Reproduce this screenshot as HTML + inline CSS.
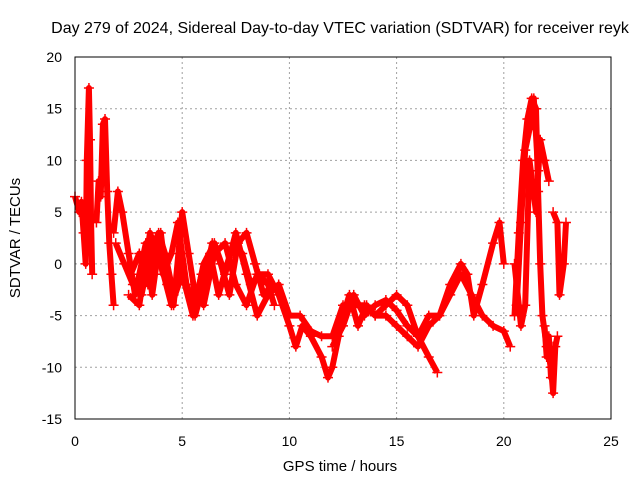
<!DOCTYPE html>
<html><head><meta charset="utf-8"><style>
body{margin:0;background:#fff;}
svg{display:block;font-family:"Liberation Sans",sans-serif;}
</style></head><body>
<svg id="chart" width="640" height="480" xmlns="http://www.w3.org/2000/svg">
<text x="340" y="33" font-size="16" text-anchor="middle">Day 279 of 2024, Sidereal Day-to-day VTEC variation (SDTVAR) for receiver reyk</text>
<text x="340" y="471" font-size="15" text-anchor="middle">GPS time / hours</text>
<text x="20" y="238" font-size="15" text-anchor="middle" transform="rotate(-90 20 238)">SDTVAR / TECUs</text>
<g id="grid"></g>
<g id="axes"></g>
<g id="data"></g>
<rect x="75" y="57" width="536" height="362" fill="none" stroke="#000" stroke-width="1"/>
</svg>
<script>
const xTicks=[0,5,10,15,20,25];
const yTicks=[20,15,10,5,0,-5,-10,-15];
const track1X=[0,0.2,0.3,0.4,0.5,0.55,0.65,0.7,0.75,0.8];
const track1Y=[6.5,5,6,3,0,10,17,12,4,-1];
const track2X=[1.0,1.1,1.2,1.3,1.4,1.5,1.6,1.7,1.8];
const track2Y=[4,8,6.5,13.5,14,7,2,-1,-4];
const track3X=[1.8,2.0,2.2,2.5,2.8,3.0,3.3,3.6,4.0,4.3,4.6,5.0,5.3,5.6,6.0,6.5,7.0,7.5,8.0,8.5,9.0,9.5,10.0,10.3,10.6,11.0,11.5,11.8,12.0,12.3,12.5,12.8,13.2,13.6,14.0,14.5,15.0,15.5,16.0,16.5,16.9];
const track3Y=[3,7,5,1,-3,-1,2,-3,3,-2,-4,5,1,-3,-4,1,2,-2,-4,-1,-1,-3,-6,-8,-6,-7,-9,-11,-10,-7,-5,-3,-6,-4,-5,-4,-3,-4,-7,-9,-10.5];
const track4X=[2.5,3.0,3.5,4.0,4.5,5.0,5.5,6.0,6.5,7.0,7.5,8.0,8.5,9.0,9.5,10.0,10.5,11.0,11.5,12.0,12.5,13.0,13.5,14.0,14.5,15.0,15.5,16.0,16.5,17.0,17.5,18.0,18.5,19.0,19.5,20.0,20.3];
const track4Y=[-3,-4,3,0,-4,-1,-5,0,2,-1,3,-1,-5,-3,-2,-5,-5,-6.5,-7,-7,-4,-4,-4,-5,-5,-6,-7,-8,-6,-5,-3,-1,-3,-5,-6,-6.5,-8];
const track5X=[12.0,12.5,13.0,13.5,14.0,14.5,15.0,15.5,16.0,16.5,17.0,17.5,18.0,18.3,18.6,19.0,19.5,19.8,20.0];
const track5Y=[-8,-6,-3,-5,-4,-3.5,-4.5,-6,-7,-5,-5,-2,0,-1,-5,-2,2,4,0];
const track6X=[20.5,20.7,20.9,21.1,21.3,21.5,21.6,21.7,21.8,22.0,22.2,22.3,22.4,22.5];
const track6Y=[-5,3,10,14,16,15,7,0,-5,-8,-10,-12.5,-8,-7];
const track7X=[20.5,20.8,21.0,21.2,21.5,21.7,21.9,22.1];
const track7Y=[0,-6,-4,10,5,12,10,8];
const track8X=[22.3,22.5,22.6,22.8,22.9];
const track8Y=[5,4,-3,0,4];
const track9X=[1.9,2.3,2.7,3.1,3.5,3.9,4.2,4.6,4.9,5.2,5.6,5.9,6.3,6.7,7.1,7.4,7.8,8.2,8.6,9.0,9.3];
const track9Y=[2,0,-2,-3,1,3,1,-3,0,-2,-4,-1,1,-3,0,2,1,-2,-1,-2,-4];
const track10X=[2.6,3.0,3.4,3.8,4.1,4.5,4.8,5.2,5.6,6.0,6.4,6.8,7.2,7.6,8.0,8.4,8.8,9.2];
const track10Y=[-1,1,-2,2,-1,1,4,-2,-5,-2,2,0,-3,2,3,0,-3,-2];
const track11X=[20.6,20.8,21.0,21.2,21.4,21.6];
const track11Y=[-4,4,11,13,16,9];
const track12X=[21.9,22.0,22.1,22.2,22.3];
const track12Y=[-6,-9,-7,-11,-8];
const tracksX=[track1X,track2X,track3X,track4X,track5X,track6X,track7X,track8X,track9X,track10X,track11X,track12X];
const tracksY=[track1Y,track2Y,track3Y,track4Y,track5Y,track6Y,track7Y,track8Y,track9Y,track10Y,track11Y,track12Y];

const NS="http://www.w3.org/2000/svg";
const L=75,R=611,T=57,B=419;
function xs(v){return L+(v-0)/(25-0)*(R-L);}
function ys(v){return B-(v-(-15))/(20-(-15))*(B-T);}
const grid=document.getElementById('grid'),axes=document.getElementById('axes'),data=document.getElementById('data');
function mk(tag,attrs,parent){const e=document.createElementNS(NS,tag);for(const k in attrs)e.setAttribute(k,attrs[k]);parent.appendChild(e);return e;}
xTicks.forEach(v=>{
  const x=xs(v);
  if(v>0&&v<25){const g=mk('line',{x1:x,x2:x,y1:T,y2:B,stroke:'#a0a0a0','stroke-dasharray':'2,3'},grid);
  
  }
  const t=mk('text',{x:x,y:B+27,'font-size':14,'text-anchor':'middle'},axes);t.textContent=v;
  
  
});
yTicks.forEach(v=>{
  const y=ys(v);
  if(v>-15&&v<20){const g=mk('line',{x1:L,x2:R,y1:y,y2:y,stroke:'#a0a0a0','stroke-dasharray':'2,3'},grid);
  
  }
  const t=mk('text',{x:L-13,y:y+5,'font-size':14,'text-anchor':'end'},axes);t.textContent=v;
  
  
});
tracksX.forEach((tx,i)=>{
  const ty=tracksY[i];
  const pts=tx.map((x,j)=>xs(x).toFixed(1)+','+ys(ty[j]).toFixed(1)).join(' ');
  const pl=mk('polyline',{points:pts,fill:'none',stroke:'#ff0000','stroke-width':6,'stroke-linejoin':'round'},data);
  
  
  tx.forEach((x,j)=>{
    const px=xs(x),py=ys(ty[j]);
    const p=mk('path',{d:`M${px-5} ${py}H${px+5}M${px} ${py-5}V${py+5}`,stroke:'#ff0000','stroke-width':1.5},data);
    
    
  });
});
</script>
</body></html>
